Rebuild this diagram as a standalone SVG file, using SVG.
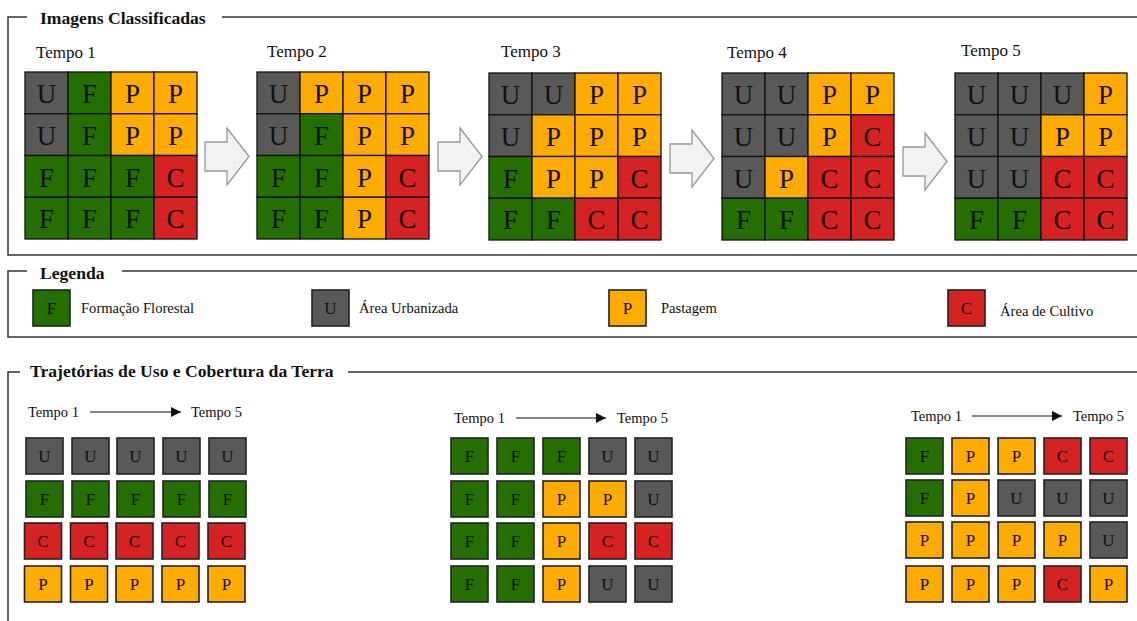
<svg xmlns="http://www.w3.org/2000/svg" width="1137" height="621" viewBox="0 0 1137 621">
<defs>
<style>
text{fill:#111}
.frame{fill:none;stroke:#333;stroke-width:1.5}
.ttl{font-size:17.6px;font-weight:bold}
.tempo{font-size:17px}
.small{font-size:14.5px}
.leg{font-size:14.6px}
.U{fill:#595959}.F{fill:#246f00}.P{fill:#ffab00}.C{fill:#d52222}
.cell{stroke:#111;stroke-width:1.3}
.tb{stroke:#222;stroke-width:1.6}
.big{font-size:27px;text-anchor:middle}
.mid{font-size:17px;text-anchor:middle}
.blk{fill:#f2f2f2;stroke:#999;stroke-width:1.3}
.conn{stroke:#111;stroke-width:1.2;fill:none}
</style>
<marker id="ah" viewBox="0 0 10 10" refX="10" refY="5" markerWidth="10" markerHeight="10" markerUnits="userSpaceOnUse" orient="auto"><path d="M0,0 L10,5 L0,10 z" fill="#111"/></marker>
</defs>
<rect width="1137" height="621" fill="#fff"/>
<g font-family="Liberation Serif, Times New Roman, serif">

<g id="frames">
<path class="frame" d="M27,17 H8 V255 H1140 M222,17 H1140"/>
<text class="ttl" x="40" y="24">Imagens Classificadas</text>
<path class="frame" d="M27,271 H8 V337 H1140 M122,271 H1140"/>
<text class="ttl" x="40" y="279">Legenda</text>
<path class="frame" d="M20,372 H8 V625 M348,372 H1140"/>
<text class="ttl" x="30" y="377">Trajetórias de Uso e Cobertura da Terra</text>
</g>

<g id="tempo1">
<text class="tempo" x="36" y="58">Tempo 1</text>
<g transform="translate(25,72)">
<rect class="cell U" x="0" y="0" width="43" height="41.75"/><rect class="cell F" x="43" y="0" width="43" height="41.75"/><rect class="cell P" x="86" y="0" width="43" height="41.75"/><rect class="cell P" x="129" y="0" width="43" height="41.75"/>
<rect class="cell U" x="0" y="41.75" width="43" height="41.75"/><rect class="cell F" x="43" y="41.75" width="43" height="41.75"/><rect class="cell P" x="86" y="41.75" width="43" height="41.75"/><rect class="cell P" x="129" y="41.75" width="43" height="41.75"/>
<rect class="cell F" x="0" y="83.5" width="43" height="41.75"/><rect class="cell F" x="43" y="83.5" width="43" height="41.75"/><rect class="cell F" x="86" y="83.5" width="43" height="41.75"/><rect class="cell C" x="129" y="83.5" width="43" height="41.75"/>
<rect class="cell F" x="0" y="125.25" width="43" height="41.75"/><rect class="cell F" x="43" y="125.25" width="43" height="41.75"/><rect class="cell F" x="86" y="125.25" width="43" height="41.75"/><rect class="cell C" x="129" y="125.25" width="43" height="41.75"/>
<text class="big" x="21.5" y="31">U</text><text class="big" x="64.5" y="31">F</text><text class="big" x="107.5" y="31">P</text><text class="big" x="150.5" y="31">P</text>
<text class="big" x="21.5" y="72.75">U</text><text class="big" x="64.5" y="72.75">F</text><text class="big" x="107.5" y="72.75">P</text><text class="big" x="150.5" y="72.75">P</text>
<text class="big" x="21.5" y="114.5">F</text><text class="big" x="64.5" y="114.5">F</text><text class="big" x="107.5" y="114.5">F</text><text class="big" x="150.5" y="114.5">C</text>
<text class="big" x="21.5" y="156.25">F</text><text class="big" x="64.5" y="156.25">F</text><text class="big" x="107.5" y="156.25">F</text><text class="big" x="150.5" y="156.25">C</text>
</g>
</g>

<g id="tempo2">
<text class="tempo" x="267" y="57">Tempo 2</text>
<g transform="translate(257,72)">
<rect class="cell U" x="0" y="0" width="43" height="41.75"/><rect class="cell P" x="43" y="0" width="43" height="41.75"/><rect class="cell P" x="86" y="0" width="43" height="41.75"/><rect class="cell P" x="129" y="0" width="43" height="41.75"/>
<rect class="cell U" x="0" y="41.75" width="43" height="41.75"/><rect class="cell F" x="43" y="41.75" width="43" height="41.75"/><rect class="cell P" x="86" y="41.75" width="43" height="41.75"/><rect class="cell P" x="129" y="41.75" width="43" height="41.75"/>
<rect class="cell F" x="0" y="83.5" width="43" height="41.75"/><rect class="cell F" x="43" y="83.5" width="43" height="41.75"/><rect class="cell P" x="86" y="83.5" width="43" height="41.75"/><rect class="cell C" x="129" y="83.5" width="43" height="41.75"/>
<rect class="cell F" x="0" y="125.25" width="43" height="41.75"/><rect class="cell F" x="43" y="125.25" width="43" height="41.75"/><rect class="cell P" x="86" y="125.25" width="43" height="41.75"/><rect class="cell C" x="129" y="125.25" width="43" height="41.75"/>
<text class="big" x="21.5" y="31">U</text><text class="big" x="64.5" y="31">P</text><text class="big" x="107.5" y="31">P</text><text class="big" x="150.5" y="31">P</text>
<text class="big" x="21.5" y="72.75">U</text><text class="big" x="64.5" y="72.75">F</text><text class="big" x="107.5" y="72.75">P</text><text class="big" x="150.5" y="72.75">P</text>
<text class="big" x="21.5" y="114.5">F</text><text class="big" x="64.5" y="114.5">F</text><text class="big" x="107.5" y="114.5">P</text><text class="big" x="150.5" y="114.5">C</text>
<text class="big" x="21.5" y="156.25">F</text><text class="big" x="64.5" y="156.25">F</text><text class="big" x="107.5" y="156.25">P</text><text class="big" x="150.5" y="156.25">C</text>
</g>
</g>

<g id="tempo3">
<text class="tempo" x="501" y="57">Tempo 3</text>
<g transform="translate(489,73)">
<rect class="cell U" x="0" y="0" width="43" height="41.75"/><rect class="cell U" x="43" y="0" width="43" height="41.75"/><rect class="cell P" x="86" y="0" width="43" height="41.75"/><rect class="cell P" x="129" y="0" width="43" height="41.75"/>
<rect class="cell U" x="0" y="41.75" width="43" height="41.75"/><rect class="cell P" x="43" y="41.75" width="43" height="41.75"/><rect class="cell P" x="86" y="41.75" width="43" height="41.75"/><rect class="cell P" x="129" y="41.75" width="43" height="41.75"/>
<rect class="cell F" x="0" y="83.5" width="43" height="41.75"/><rect class="cell P" x="43" y="83.5" width="43" height="41.75"/><rect class="cell P" x="86" y="83.5" width="43" height="41.75"/><rect class="cell C" x="129" y="83.5" width="43" height="41.75"/>
<rect class="cell F" x="0" y="125.25" width="43" height="41.75"/><rect class="cell F" x="43" y="125.25" width="43" height="41.75"/><rect class="cell C" x="86" y="125.25" width="43" height="41.75"/><rect class="cell C" x="129" y="125.25" width="43" height="41.75"/>
<text class="big" x="21.5" y="31">U</text><text class="big" x="64.5" y="31">U</text><text class="big" x="107.5" y="31">P</text><text class="big" x="150.5" y="31">P</text>
<text class="big" x="21.5" y="72.75">U</text><text class="big" x="64.5" y="72.75">P</text><text class="big" x="107.5" y="72.75">P</text><text class="big" x="150.5" y="72.75">P</text>
<text class="big" x="21.5" y="114.5">F</text><text class="big" x="64.5" y="114.5">P</text><text class="big" x="107.5" y="114.5">P</text><text class="big" x="150.5" y="114.5">C</text>
<text class="big" x="21.5" y="156.25">F</text><text class="big" x="64.5" y="156.25">F</text><text class="big" x="107.5" y="156.25">C</text><text class="big" x="150.5" y="156.25">C</text>
</g>
</g>

<g id="tempo4">
<text class="tempo" x="727" y="58">Tempo 4</text>
<g transform="translate(722,73)">
<rect class="cell U" x="0" y="0" width="43" height="41.75"/><rect class="cell U" x="43" y="0" width="43" height="41.75"/><rect class="cell P" x="86" y="0" width="43" height="41.75"/><rect class="cell P" x="129" y="0" width="43" height="41.75"/>
<rect class="cell U" x="0" y="41.75" width="43" height="41.75"/><rect class="cell U" x="43" y="41.75" width="43" height="41.75"/><rect class="cell P" x="86" y="41.75" width="43" height="41.75"/><rect class="cell C" x="129" y="41.75" width="43" height="41.75"/>
<rect class="cell U" x="0" y="83.5" width="43" height="41.75"/><rect class="cell P" x="43" y="83.5" width="43" height="41.75"/><rect class="cell C" x="86" y="83.5" width="43" height="41.75"/><rect class="cell C" x="129" y="83.5" width="43" height="41.75"/>
<rect class="cell F" x="0" y="125.25" width="43" height="41.75"/><rect class="cell F" x="43" y="125.25" width="43" height="41.75"/><rect class="cell C" x="86" y="125.25" width="43" height="41.75"/><rect class="cell C" x="129" y="125.25" width="43" height="41.75"/>
<text class="big" x="21.5" y="31">U</text><text class="big" x="64.5" y="31">U</text><text class="big" x="107.5" y="31">P</text><text class="big" x="150.5" y="31">P</text>
<text class="big" x="21.5" y="72.75">U</text><text class="big" x="64.5" y="72.75">U</text><text class="big" x="107.5" y="72.75">P</text><text class="big" x="150.5" y="72.75">C</text>
<text class="big" x="21.5" y="114.5">U</text><text class="big" x="64.5" y="114.5">P</text><text class="big" x="107.5" y="114.5">C</text><text class="big" x="150.5" y="114.5">C</text>
<text class="big" x="21.5" y="156.25">F</text><text class="big" x="64.5" y="156.25">F</text><text class="big" x="107.5" y="156.25">C</text><text class="big" x="150.5" y="156.25">C</text>
</g>
</g>

<g id="tempo5">
<text class="tempo" x="961" y="56">Tempo 5</text>
<g transform="translate(955,73)">
<rect class="cell U" x="0" y="0" width="43" height="41.75"/><rect class="cell U" x="43" y="0" width="43" height="41.75"/><rect class="cell U" x="86" y="0" width="43" height="41.75"/><rect class="cell P" x="129" y="0" width="43" height="41.75"/>
<rect class="cell U" x="0" y="41.75" width="43" height="41.75"/><rect class="cell U" x="43" y="41.75" width="43" height="41.75"/><rect class="cell P" x="86" y="41.75" width="43" height="41.75"/><rect class="cell P" x="129" y="41.75" width="43" height="41.75"/>
<rect class="cell U" x="0" y="83.5" width="43" height="41.75"/><rect class="cell U" x="43" y="83.5" width="43" height="41.75"/><rect class="cell C" x="86" y="83.5" width="43" height="41.75"/><rect class="cell C" x="129" y="83.5" width="43" height="41.75"/>
<rect class="cell F" x="0" y="125.25" width="43" height="41.75"/><rect class="cell F" x="43" y="125.25" width="43" height="41.75"/><rect class="cell C" x="86" y="125.25" width="43" height="41.75"/><rect class="cell C" x="129" y="125.25" width="43" height="41.75"/>
<text class="big" x="21.5" y="31">U</text><text class="big" x="64.5" y="31">U</text><text class="big" x="107.5" y="31">U</text><text class="big" x="150.5" y="31">P</text>
<text class="big" x="21.5" y="72.75">U</text><text class="big" x="64.5" y="72.75">U</text><text class="big" x="107.5" y="72.75">P</text><text class="big" x="150.5" y="72.75">P</text>
<text class="big" x="21.5" y="114.5">U</text><text class="big" x="64.5" y="114.5">U</text><text class="big" x="107.5" y="114.5">C</text><text class="big" x="150.5" y="114.5">C</text>
<text class="big" x="21.5" y="156.25">F</text><text class="big" x="64.5" y="156.25">F</text><text class="big" x="107.5" y="156.25">C</text><text class="big" x="150.5" y="156.25">C</text>
</g>
</g>

<g id="connectors">
<path class="blk" d="M205,142 H227 V128 L249,156.5 L227,185 V171 H205 Z"/>
<path class="blk" d="M438,142 H460 V128 L482,156.5 L460,185 V171 H438 Z"/>
<path class="blk" d="M670,144 H692 V130 L714,158.5 L692,187 V173 H670 Z"/>
<path class="blk" d="M903,147 H925 V133 L947,161.5 L925,190 V176 H903 Z"/>
<path class="conn" d="M90,412 H181" marker-end="url(#ah)"/>
<path class="conn" d="M516,418 H606" marker-end="url(#ah)"/>
<path class="conn" d="M972,416 H1062" marker-end="url(#ah)"/>
</g>

<g id="legend">
<rect class="tb F" x="33" y="290" width="37" height="36"/><text class="mid" x="51.5" y="314">F</text>
<text class="leg" x="81" y="313">Formação Florestal</text>
<rect class="tb U" x="312" y="290" width="37" height="36"/><text class="mid" x="330.5" y="314">U</text>
<text class="leg" x="359" y="313">Área Urbanizada</text>
<rect class="tb P" x="609" y="290" width="37" height="36"/><text class="mid" x="627.5" y="314">P</text>
<text class="leg" x="661" y="313">Pastagem</text>
<rect class="tb C" x="948" y="290" width="37" height="36"/><text class="mid" x="966.5" y="314">C</text>
<text class="leg" x="1000" y="316">Área de Cultivo</text>
</g>

<g id="traj1">
<text class="small" x="28" y="417">Tempo 1</text>
<text class="small" x="191" y="417">Tempo 5</text>
<g transform="translate(26,438)">
<rect class="tb U" x="0" y="0" width="37" height="36"/><rect class="tb U" x="46" y="0" width="37" height="36"/><rect class="tb U" x="91" y="0" width="37" height="36"/><rect class="tb U" x="137" y="0" width="37" height="36"/><rect class="tb U" x="183" y="0" width="37" height="36"/>
<rect class="tb F" x="0" y="43" width="37" height="36"/><rect class="tb F" x="46" y="43" width="37" height="36"/><rect class="tb F" x="91" y="43" width="37" height="36"/><rect class="tb F" x="137" y="43" width="37" height="36"/><rect class="tb F" x="183" y="43" width="37" height="36"/>
<rect class="tb C" x="-1.5" y="85" width="37" height="36"/><rect class="tb C" x="44.5" y="85" width="37" height="36"/><rect class="tb C" x="90" y="85" width="37" height="36"/><rect class="tb C" x="136" y="85" width="37" height="36"/><rect class="tb C" x="182" y="85" width="37" height="36"/>
<rect class="tb P" x="-1.5" y="128" width="37" height="36"/><rect class="tb P" x="44.5" y="128" width="37" height="36"/><rect class="tb P" x="90" y="128" width="37" height="36"/><rect class="tb P" x="136" y="128" width="37" height="36"/><rect class="tb P" x="182" y="128" width="37" height="36"/>
<text class="mid" x="18.5" y="24">U</text><text class="mid" x="64.5" y="24">U</text><text class="mid" x="109.5" y="24">U</text><text class="mid" x="155.5" y="24">U</text><text class="mid" x="201.5" y="24">U</text>
<text class="mid" x="18.5" y="67">F</text><text class="mid" x="64.5" y="67">F</text><text class="mid" x="109.5" y="67">F</text><text class="mid" x="155.5" y="67">F</text><text class="mid" x="201.5" y="67">F</text>
<text class="mid" x="17" y="109">C</text><text class="mid" x="63" y="109">C</text><text class="mid" x="108.5" y="109">C</text><text class="mid" x="154.5" y="109">C</text><text class="mid" x="200.5" y="109">C</text>
<text class="mid" x="17" y="152">P</text><text class="mid" x="63" y="152">P</text><text class="mid" x="108.5" y="152">P</text><text class="mid" x="154.5" y="152">P</text><text class="mid" x="200.5" y="152">P</text>
</g>
</g>

<g id="traj2">
<text class="small" x="454" y="423">Tempo 1</text>
<text class="small" x="617" y="423">Tempo 5</text>
<g transform="translate(451,438)">
<rect class="tb F" x="0" y="0" width="37" height="36"/><rect class="tb F" x="46" y="0" width="37" height="36"/><rect class="tb F" x="92" y="0" width="37" height="36"/><rect class="tb U" x="138" y="0" width="37" height="36"/><rect class="tb U" x="184" y="0" width="37" height="36"/>
<rect class="tb F" x="0" y="43" width="37" height="36"/><rect class="tb F" x="46" y="43" width="37" height="36"/><rect class="tb P" x="92" y="43" width="37" height="36"/><rect class="tb P" x="138" y="43" width="37" height="36"/><rect class="tb U" x="184" y="43" width="37" height="36"/>
<rect class="tb F" x="0" y="85" width="37" height="36"/><rect class="tb F" x="46" y="85" width="37" height="36"/><rect class="tb P" x="92" y="85" width="37" height="36"/><rect class="tb C" x="138" y="85" width="37" height="36"/><rect class="tb C" x="184" y="85" width="37" height="36"/>
<rect class="tb F" x="0" y="128" width="37" height="36"/><rect class="tb F" x="46" y="128" width="37" height="36"/><rect class="tb P" x="92" y="128" width="37" height="36"/><rect class="tb U" x="138" y="128" width="37" height="36"/><rect class="tb U" x="184" y="128" width="37" height="36"/>
<text class="mid" x="18.5" y="24">F</text><text class="mid" x="64.5" y="24">F</text><text class="mid" x="110.5" y="24">F</text><text class="mid" x="156.5" y="24">U</text><text class="mid" x="202.5" y="24">U</text>
<text class="mid" x="18.5" y="67">F</text><text class="mid" x="64.5" y="67">F</text><text class="mid" x="110.5" y="67">P</text><text class="mid" x="156.5" y="67">P</text><text class="mid" x="202.5" y="67">U</text>
<text class="mid" x="18.5" y="109">F</text><text class="mid" x="64.5" y="109">F</text><text class="mid" x="110.5" y="109">P</text><text class="mid" x="156.5" y="109">C</text><text class="mid" x="202.5" y="109">C</text>
<text class="mid" x="18.5" y="152">F</text><text class="mid" x="64.5" y="152">F</text><text class="mid" x="110.5" y="152">P</text><text class="mid" x="156.5" y="152">U</text><text class="mid" x="202.5" y="152">U</text>
</g>
</g>

<g id="traj3">
<text class="small" x="911" y="421">Tempo 1</text>
<text class="small" x="1073" y="421">Tempo 5</text>
<g transform="translate(906,438)">
<rect class="tb F" x="0" y="0" width="37" height="36"/><rect class="tb P" x="46" y="0" width="37" height="36"/><rect class="tb P" x="92" y="0" width="37" height="36"/><rect class="tb C" x="138" y="0" width="37" height="36"/><rect class="tb C" x="184" y="0" width="37" height="36"/>
<rect class="tb F" x="0" y="42" width="37" height="36"/><rect class="tb P" x="46" y="42" width="37" height="36"/><rect class="tb U" x="92" y="42" width="37" height="36"/><rect class="tb U" x="138" y="42" width="37" height="36"/><rect class="tb U" x="184" y="42" width="37" height="36"/>
<rect class="tb P" x="0" y="84" width="37" height="36"/><rect class="tb P" x="46" y="84" width="37" height="36"/><rect class="tb P" x="92" y="84" width="37" height="36"/><rect class="tb P" x="138" y="84" width="37" height="36"/><rect class="tb U" x="184" y="84" width="37" height="36"/>
<rect class="tb P" x="0" y="128" width="37" height="36"/><rect class="tb P" x="46" y="128" width="37" height="36"/><rect class="tb P" x="92" y="128" width="37" height="36"/><rect class="tb C" x="138" y="128" width="37" height="36"/><rect class="tb P" x="184" y="128" width="37" height="36"/>
<text class="mid" x="18.5" y="24">F</text><text class="mid" x="64.5" y="24">P</text><text class="mid" x="110.5" y="24">P</text><text class="mid" x="156.5" y="24">C</text><text class="mid" x="202.5" y="24">C</text>
<text class="mid" x="18.5" y="66">F</text><text class="mid" x="64.5" y="66">P</text><text class="mid" x="110.5" y="66">U</text><text class="mid" x="156.5" y="66">U</text><text class="mid" x="202.5" y="66">U</text>
<text class="mid" x="18.5" y="108">P</text><text class="mid" x="64.5" y="108">P</text><text class="mid" x="110.5" y="108">P</text><text class="mid" x="156.5" y="108">P</text><text class="mid" x="202.5" y="108">U</text>
<text class="mid" x="18.5" y="152">P</text><text class="mid" x="64.5" y="152">P</text><text class="mid" x="110.5" y="152">P</text><text class="mid" x="156.5" y="152">C</text><text class="mid" x="202.5" y="152">P</text>
</g>
</g>
</g>
</svg>
